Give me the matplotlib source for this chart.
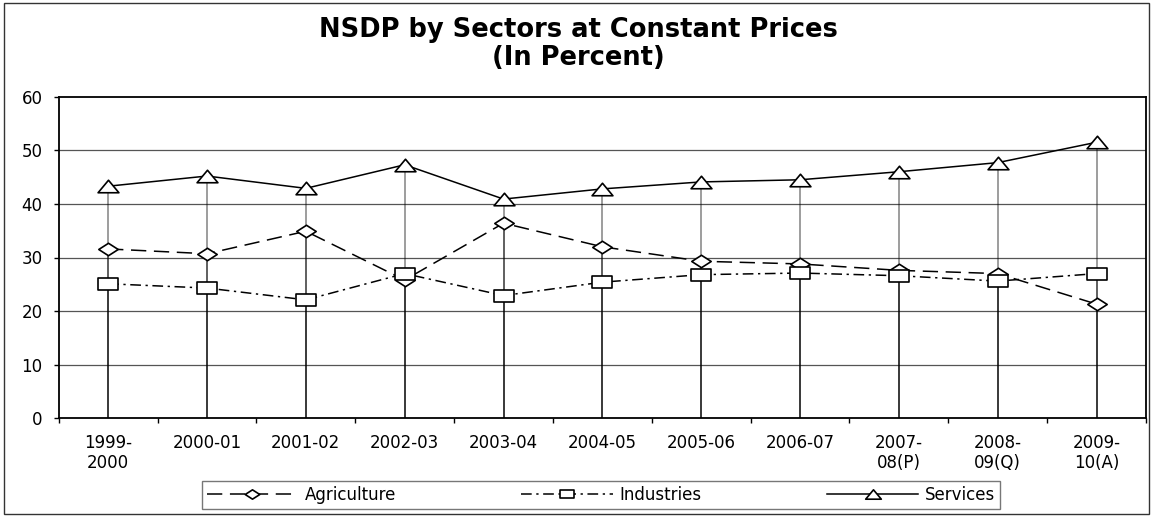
import numpy as np
import matplotlib
matplotlib.use("Agg")
import matplotlib.pyplot as plt
from matplotlib.path import Path
from matplotlib.patches import Rectangle

# Sector shares of NSDP at constant prices (percent)
years = ["1999-\n2000", "2000-01", "2001-02", "2002-03", "2003-04", "2004-05",
         "2005-06", "2006-07", "2007-\n08(P)", "2008-\n09(Q)", "2009-\n10(A)"]
agriculture = [31.6, 30.7, 34.9, 25.8, 36.4, 32.0, 29.3, 28.8, 27.6, 27.0, 21.3]
industries = [25.1, 24.3, 22.1, 27.0, 22.9, 25.4, 26.8, 27.1, 26.6, 25.6, 27.0]
services = [43.3, 45.2, 42.9, 47.3, 40.9, 42.8, 44.1, 44.5, 46.0, 47.7, 51.5]
yticks = [0, 10, 20, 30, 40, 50, 60]

plt.rcParams["font.family"] = ["DejaVu Sans"]

# Wide, flat marker shapes
diamond = Path([(-1, 0), (0, 0.64), (1, 0), (0, -0.64), (-1, 0)], closed=True)
square = Path([(-1, -0.58), (1, -0.58), (1, 0.58), (-1, 0.58), (-1, -0.58)], closed=True)
triangle = Path([(-1, -0.6), (1, -0.6), (0, 0.6), (-1, -0.6)], closed=True)

W, H = 1151, 516
fig = plt.figure(figsize=(W / 100, H / 100), dpi=100)
fig.patch.set_facecolor("white")

# Outer frame of the chart
fig.patches.append(Rectangle((4 / W, 2 / H), (W - 6) / W, (H - 5) / H,
                             transform=fig.transFigure, fill=False,
                             edgecolor="#333333", lw=1.0))

ax = fig.add_axes([58.7 / W, 1 - 418.3 / H, (1146 - 58.7) / W, (418.3 - 96.7) / H])
x = np.arange(len(years))

# Drop lines from every point to the axis
for vals in (agriculture, industries, services):
    ax.vlines(x, 0, vals, colors="black", alpha=0.45, lw=1.2, zorder=1)

common = dict(color="black", lw=1.1, mfc="white", mec="black", mew=1.2)
ax.plot(x, agriculture, ls=(0, (10, 5)), marker=diamond, ms=14,
        label="Agriculture", zorder=3, **common)
ax.plot(x, industries, ls=(0, (7, 3, 1.5, 3)), marker=square, ms=14,
        label="Industries", zorder=3, **common)
ax.plot(x, services, ls="-", marker=triangle, ms=15,
        label="Services", zorder=3, **common)

ax.set_xlim(-0.5, len(years) - 0.5)
ax.set_ylim(0, 60)
ax.set_yticks(yticks)
ax.set_yticklabels([str(v) for v in yticks], fontsize=12)
ax.set_xticks(x)
ax.set_xticklabels(years, fontsize=12, linespacing=1.15)
ax.set_xticks(np.arange(len(years) + 1) - 0.5, minor=True)
ax.tick_params(axis="x", which="major", length=0, pad=11)
ax.tick_params(axis="x", which="minor", length=3.6, width=1.0, direction="out")
ax.tick_params(axis="y", which="major", length=3.6, width=1.0, direction="out", pad=8)

for yv in yticks[1:-1]:
    ax.axhline(yv, color="#555555", lw=0.9, zorder=0)

for side in ("left", "bottom", "top", "right"):
    ax.spines[side].set_linewidth(1.3)
    ax.spines[side].set_color("black")

fig.text(578 / W, 1 - 44 / H, "NSDP by Sectors at Constant Prices\n(In Percent)",
         ha="center", va="center", fontsize=18.5, fontweight="bold", linespacing=1.1)

leg = fig.legend(loc="center", bbox_to_anchor=(601 / W, 1 - 495 / H), ncol=3,
                 frameon=True, fancybox=False, edgecolor="#555555",
                 handlelength=5.5, columnspacing=7.5, fontsize=12,
                 borderpad=0.3, handletextpad=0.4, markerscale=0.75)
leg.get_frame().set_linewidth(1.0)

fig.savefig("out.png", dpi=100, facecolor="white")
